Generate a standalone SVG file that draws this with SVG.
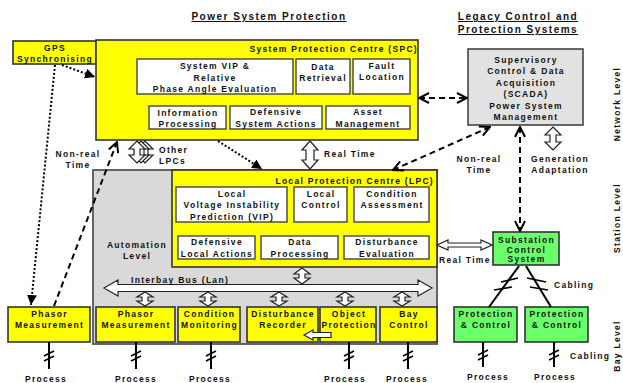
<svg xmlns="http://www.w3.org/2000/svg" width="623" height="383" viewBox="0 0 623 383">
  <style>
    .t { font-family: "Liberation Sans", Arial, sans-serif; font-weight: bold; font-size: 8.5px; letter-spacing: 1.3px; fill: #111; text-anchor: middle; }
    .s { text-anchor: start; }
    .e { text-anchor: end; }
    .h { font-size: 10px; letter-spacing: 1.5px; text-decoration: underline; }
    .yel { fill: #ffff00; stroke: #333; stroke-width: 1.6; }
    .wht { fill: #ffffff; stroke: #444; stroke-width: 1.4; }
    .grn { fill: #6cff6c; stroke: #333; stroke-width: 1.6; }
    .gry { fill: #e2e2e2; stroke: #444; stroke-width: 1.6; }
    .auto { fill: #d9d9d9; stroke: #555; stroke-width: 1.8; }
    .blk { fill: #ffffff; stroke: #222; stroke-width: 1.2; }
    .dash { fill: none; stroke: #000; stroke-width: 2; stroke-dasharray: 6 4; }
    .dot { fill: none; stroke: #000; stroke-width: 2; stroke-dasharray: 2 2; }
    .wire { fill: none; stroke: #000; stroke-width: 2; }
    .tick { fill: none; stroke: #000; stroke-width: 1.6; }
  </style>
  <defs>
    <marker id="chev" viewBox="0 0 12 12" refX="11" refY="6" markerWidth="12" markerHeight="12" markerUnits="userSpaceOnUse" orient="auto-start-reverse">
      <path d="M1,1 L11,6 L1,11" fill="none" stroke="#000" stroke-width="2"/>
    </marker>
    <marker id="tri" viewBox="0 0 10 10" refX="10" refY="5" markerWidth="10" markerHeight="10" markerUnits="userSpaceOnUse" orient="auto">
      <path d="M0,0 L10,5 L0,10 Z" fill="#000"/>
    </marker>
  </defs>

  <!-- headings -->
  <text class="t h" x="269" y="20">Power System Protection</text>
  <text class="t h" x="518" y="20">Legacy Control and</text>
  <text class="t h" x="518" y="33">Protection Systems</text>

  <!-- level labels -->
  <text class="t" transform="translate(620,104) rotate(-90)">Network Level</text>
  <text class="t" transform="translate(620,218) rotate(-90)">Station Level</text>
  <text class="t" transform="translate(620,346) rotate(-90)">Bay Level</text>

  <!-- automation area -->
  <g id="automation">
    <rect class="auto" x="93" y="170" width="344" height="174"/>
    <text class="t" x="137" y="248">Automation</text>
    <text class="t" x="137" y="259">Level</text>
  </g>

  <g id="gps">
    <rect class="yel" x="13" y="41" width="83" height="23"/>
    <text class="t" x="55" y="51">GPS</text>
    <text class="t" x="55" y="62">Synchronising</text>
  </g>

  <g id="spc">
    <rect class="yel" x="96" y="40" width="322" height="100"/>
    <text class="t e" x="418" y="52">System Protection Centre (SPC)</text>
    <g id="spc-vip">
      <rect class="wht" x="137" y="59" width="156" height="35"/>
      <text class="t" x="215" y="69">System VIP &amp;</text>
      <text class="t" x="215" y="80.5">Relative</text>
      <text class="t" x="215" y="92">Phase Angle Evaluation</text>
    </g>
    <g id="spc-retrieval">
      <rect class="wht" x="296" y="59" width="54" height="35"/>
      <text class="t" x="323" y="70">Data</text>
      <text class="t" x="323" y="81">Retrieval</text>
    </g>
    <g id="spc-fault">
      <rect class="wht" x="353" y="59" width="57" height="35"/>
      <text class="t" x="382" y="68.5">Fault</text>
      <text class="t" x="382" y="80">Location</text>
    </g>
    <g id="spc-info">
      <rect class="wht" x="149" y="106" width="77" height="23"/>
      <text class="t" x="188" y="116">Information</text>
      <text class="t" x="188" y="127">Processing</text>
    </g>
    <g id="spc-defensive">
      <rect class="wht" x="230" y="106" width="92" height="23"/>
      <text class="t" x="276" y="115">Defensive</text>
      <text class="t" x="276" y="126.5">System Actions</text>
    </g>
    <g id="spc-asset">
      <rect class="wht" x="326" y="106" width="84" height="23"/>
      <text class="t" x="368" y="115">Asset</text>
      <text class="t" x="368" y="127">Management</text>
    </g>
  </g>

  <g id="scada">
    <rect class="gry" x="468" y="49" width="115" height="76"/>
    <text class="t" x="526" y="62.5">Supervisory</text>
    <text class="t" x="526" y="74">Control &amp; Data</text>
    <text class="t" x="526" y="85.5">Acquisition</text>
    <text class="t" x="526" y="97">(SCADA)</text>
    <text class="t" x="526" y="108.5">Power System</text>
    <text class="t" x="526" y="120">Management</text>
  </g>

  <g id="lpc">
    <rect class="yel" x="172" y="170" width="265" height="97"/>
    <text class="t e" x="434" y="184">Local Protection Centre (LPC)</text>
    <g id="lpc-vip">
      <rect class="wht" x="176" y="187" width="111" height="35"/>
      <text class="t" x="232" y="196.5">Local</text>
      <text class="t" x="232" y="208">Voltage Instability</text>
      <text class="t" x="232" y="219.5">Prediction (VIP)</text>
    </g>
    <g id="lpc-control">
      <rect class="wht" x="294" y="187" width="53" height="35"/>
      <text class="t" x="321" y="196.5">Local</text>
      <text class="t" x="321" y="208">Control</text>
    </g>
    <g id="lpc-condition">
      <rect class="wht" x="354" y="187" width="75" height="35"/>
      <text class="t" x="392" y="196.5">Condition</text>
      <text class="t" x="392" y="208">Assessment</text>
    </g>
    <g id="lpc-defensive">
      <rect class="wht" x="178" y="236" width="77" height="23"/>
      <text class="t" x="217" y="245">Defensive</text>
      <text class="t" x="217" y="256.5">Local Actions</text>
    </g>
    <g id="lpc-data">
      <rect class="wht" x="261" y="236" width="77" height="23"/>
      <text class="t" x="300" y="245">Data</text>
      <text class="t" x="300" y="256.5">Processing</text>
    </g>
    <g id="lpc-disturbance">
      <rect class="wht" x="344" y="236" width="85" height="23"/>
      <text class="t" x="387" y="245">Disturbance</text>
      <text class="t" x="387" y="256.5">Evaluation</text>
    </g>
  </g>

  <g id="bay-phasor">
    <rect class="yel" x="96" y="307" width="79" height="35"/>
    <text class="t" x="136" y="317">Phasor</text>
    <text class="t" x="136" y="328">Measurement</text>
  </g>
  <g id="bay-condition">
    <rect class="yel" x="178" y="307" width="62" height="35"/>
    <text class="t" x="209.5" y="317">Condition</text>
    <text class="t" x="209.5" y="328">Monitoring</text>
  </g>
  <g id="bay-disturbance">
    <rect class="yel" x="247" y="307" width="71" height="35"/>
    <text class="t" x="283" y="317">Disturbance</text>
    <text class="t" x="283" y="328">Recorder</text>
  </g>
  <g id="bay-object">
    <rect class="yel" x="320" y="307" width="56" height="35"/>
    <text class="t" x="349" y="317">Object</text>
    <text class="t" x="349" y="328">Protection</text>
  </g>
  <g id="bay-control">
    <rect class="yel" x="380" y="307" width="57" height="35"/>
    <text class="t" x="409" y="317">Bay</text>
    <text class="t" x="409" y="328">Control</text>
  </g>

  <g id="pmu">
    <rect class="yel" x="8" y="307" width="82" height="35"/>
    <text class="t" x="49.5" y="317">Phasor</text>
    <text class="t" x="49.5" y="328">Measurement</text>
  </g>

  <g id="substation">
    <rect class="grn" x="493" y="232" width="66" height="33"/>
    <text class="t" x="526.5" y="243">Substation</text>
    <text class="t" x="526.5" y="252.5">Control</text>
    <text class="t" x="526.5" y="262">System</text>
  </g>
  <g id="pc1">
    <rect class="grn" x="454" y="307" width="63" height="35"/>
    <text class="t" x="486" y="316.5">Protection</text>
    <text class="t" x="486" y="327.5">&amp; Control</text>
  </g>
  <g id="pc2">
    <rect class="grn" x="525" y="307" width="63" height="35"/>
    <text class="t" x="557" y="316.5">Protection</text>
    <text class="t" x="557" y="327.5">&amp; Control</text>
  </g>

  <g id="connectors">
    <!-- non-real-time links -->
    <line class="dash" x1="419" y1="98" x2="467" y2="98" marker-start="url(#chev)" marker-end="url(#chev)"/>
    <line class="dash" x1="520" y1="127" x2="520" y2="231" marker-start="url(#chev)" marker-end="url(#chev)"/>
    <line class="dash" x1="393" y1="170" x2="490" y2="127" marker-start="url(#chev)" marker-end="url(#chev)"/>
    <line class="dash" x1="54" y1="306" x2="117" y2="142" marker-end="url(#chev)"/>
    <!-- time synchronisation -->
    <line class="dot" x1="55" y1="65" x2="31" y2="305" marker-end="url(#tri)"/>
    <line class="dot" x1="62" y1="65" x2="95" y2="77" marker-end="url(#tri)"/>
    <line class="dot" x1="218" y1="141" x2="262" y2="169" marker-end="url(#tri)"/>

    <!-- real-time block arrows -->
    <polygon class="blk" points="310,141 318,150 314,150 314,160 318,160 310,169 302,160 306,160 306,150 302,150"/>
    <polygon class="blk" points="553,127 561,135 556,135 556,142 561,142 553,150 545,142 550,142 550,135 545,135"/>
    <polygon class="blk" points="145,141 153,149 148,149 148,155 153,155 145,163 137,155 142,155 142,149 137,149"/>
    <polygon class="blk" points="141,141 149,149 144,149 144,155 149,155 141,163 133,155 138,155 138,149 133,149"/>
    <polygon class="blk" points="137,141 145,149 140,149 140,155 145,155 137,163 129,155 134,155 134,149 129,149"/>
    <polygon class="blk" points="437,245 448,240 448,243 481,243 481,240 492,245 481,250 481,247 448,247 448,250"/>
    <polygon class="blk" points="104,288 118,280 118,284.5 418,284.5 418,280 432,288 418,296 418,291.5 118,291.5 118,296"/>
    <polygon class="blk" points="302,268 310,274 305,274 305,278 310,278 302,284 294,278 299,278 299,274 294,274"/>
    <polygon class="blk" points="145,292 153,297 148,297 148,301 153,301 145,306 137,301 142,301 142,297 137,297"/>
    <polygon class="blk" points="208,292 216,297 211,297 211,301 216,301 208,306 200,301 205,301 205,297 200,297"/>
    <polygon class="blk" points="279,292 287,297 282,297 282,301 287,301 279,306 271,301 276,301 276,297 271,297"/>
    <polygon class="blk" points="345,292 353,297 348,297 348,301 353,301 345,306 337,301 342,301 342,297 337,297"/>
    <polygon class="blk" points="402,292 410,297 405,297 405,301 410,301 402,306 394,301 399,301 399,297 394,297"/>
    <polygon class="blk" points="304,335 313,330 313,332.5 331,332.5 331,337.5 313,337.5 313,340"/>

    <!-- cabling -->
    <line class="wire" x1="519" y1="266" x2="489" y2="307"/>
    <line class="wire" x1="526" y1="266" x2="551" y2="307"/>
    <path class="tick" d="M501,282 L518,278 M494,290 L512,287 M527,278 L546,282 M530,287 L548,290"/>

    <!-- process connections -->
    <path class="wire" d="M49,342 V369 M136,342 V369 M211,342 V369 M349,342 V369 M408,342 V369 M483,342 V367 M554,342 V367"/>
    <path class="tick" d="M44,356 L54,351 M44,361 L54,356 M131,356 L141,351 M131,361 L141,356 M206,356 L216,351 M206,361 L216,356 M344,356 L354,351 M344,361 L354,356 M403,356 L413,351 M403,361 L413,356 M478,355 L488,350 M478,360 L488,355 M549,355 L559,350 M549,360 L559,355"/>
  </g>

  <!-- connector labels -->
  <text class="t" x="78" y="156.5">Non-real</text>
  <text class="t" x="78" y="167.5">Time</text>
  <text class="t s" x="159" y="152.5">Other</text>
  <text class="t s" x="159" y="164">LPCs</text>
  <text class="t s" x="324" y="157">Real Time</text>
  <text class="t" x="479" y="161.5">Non-real</text>
  <text class="t" x="479" y="173">Time</text>
  <text class="t" x="560" y="161.5">Generation</text>
  <text class="t" x="560" y="173">Adaptation</text>
  <text class="t s" x="131" y="282.5">Interbay Bus (Lan)</text>
  <text class="t s" x="439" y="262.5">Real Time</text>
  <text class="t s" x="554" y="287.5">Cabling</text>
  <text class="t s" x="570" y="359">Cabling</text>
  <text class="t" x="46" y="382">Process</text>
  <text class="t" x="136" y="382">Process</text>
  <text class="t" x="210" y="382">Process</text>
  <text class="t" x="345" y="382">Process</text>
  <text class="t" x="407" y="382">Process</text>
  <text class="t" x="488" y="379.5">Process</text>
  <text class="t" x="555" y="379.5">Process</text>
</svg>
